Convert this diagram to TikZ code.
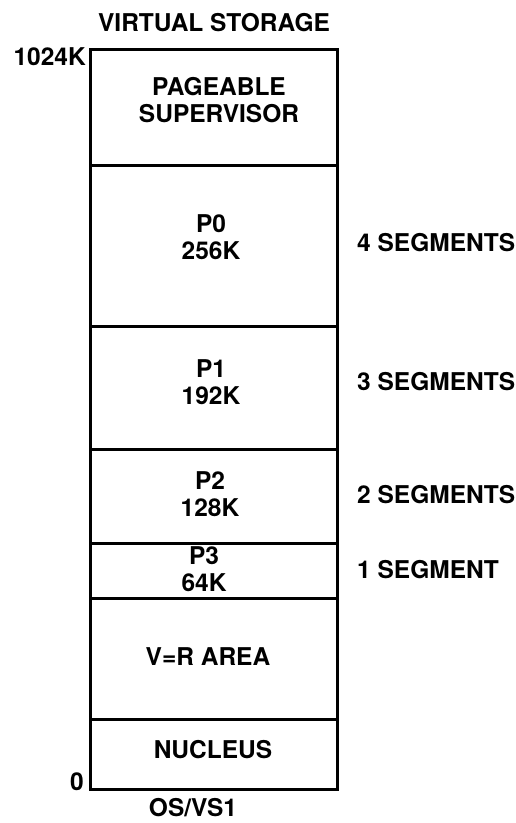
\documentclass[tikz,border=0pt]{standalone}
\usepackage{fontspec}
\setmainfont{TeX Gyre Heros}
\begin{document}
\begin{tikzpicture}[x=1pt,y=-1pt,
  region/.style={draw,line width=3.2pt,minimum width=247pt,inner sep=0pt,anchor=north west},
  lbl/.style={font=\fontsize{24.5}{27}\selectfont\bfseries,align=center,inner sep=0pt},
  seg/.style={lbl,anchor=west}]
\useasboundingbox (0,0) rectangle (516,823);
\node[region,minimum height=116pt] (sup) at (89,48) {};
\node[region,minimum height=161pt] (p0) at (89,164) {};
\node[region,minimum height=123pt] (p1) at (89,325) {};
\node[region,minimum height=94pt] (p2) at (89,448) {};
\node[region,minimum height=55pt] (p3) at (89,542) {};
\node[region,minimum height=121pt] (vr) at (89,597) {};
\node[region,minimum height=70pt] (nuc) at (89,718) {};
\node[lbl] (title) at (214,23) {VIRTUAL STORAGE};
\node[lbl,anchor=east] (top) at (86,57) {1024K};
\node[lbl,anchor=east] (zero) at (84,782) {0};
\node[lbl] (os) at (193,808) {OS/VS1};
\node[lbl] (tsup) at (219,100) {PAGEABLE\\SUPERVISOR};
\node[lbl] (tp0) at (211,237) {P0\\256K};
\node[lbl] (tp1) at (211,382) {P1\\192K};
\node[lbl] (tp2) at (210,494) {P2\\128K};
\node[lbl] (tp3) at (204,569) {P3\\64K};
\node[lbl] (tvr) at (208,657) {V=R AREA};
\node[lbl] (tnuc) at (213,750) {NUCLEUS};
\node[seg] (s4) at (357,243) {4 SEGMENTS};
\node[seg] (s3) at (357,382) {3 SEGMENTS};
\node[seg] (s2) at (357,495) {2 SEGMENTS};
\node[seg] (s1) at (357,570) {1 SEGMENT};
\end{tikzpicture}
\end{document}
